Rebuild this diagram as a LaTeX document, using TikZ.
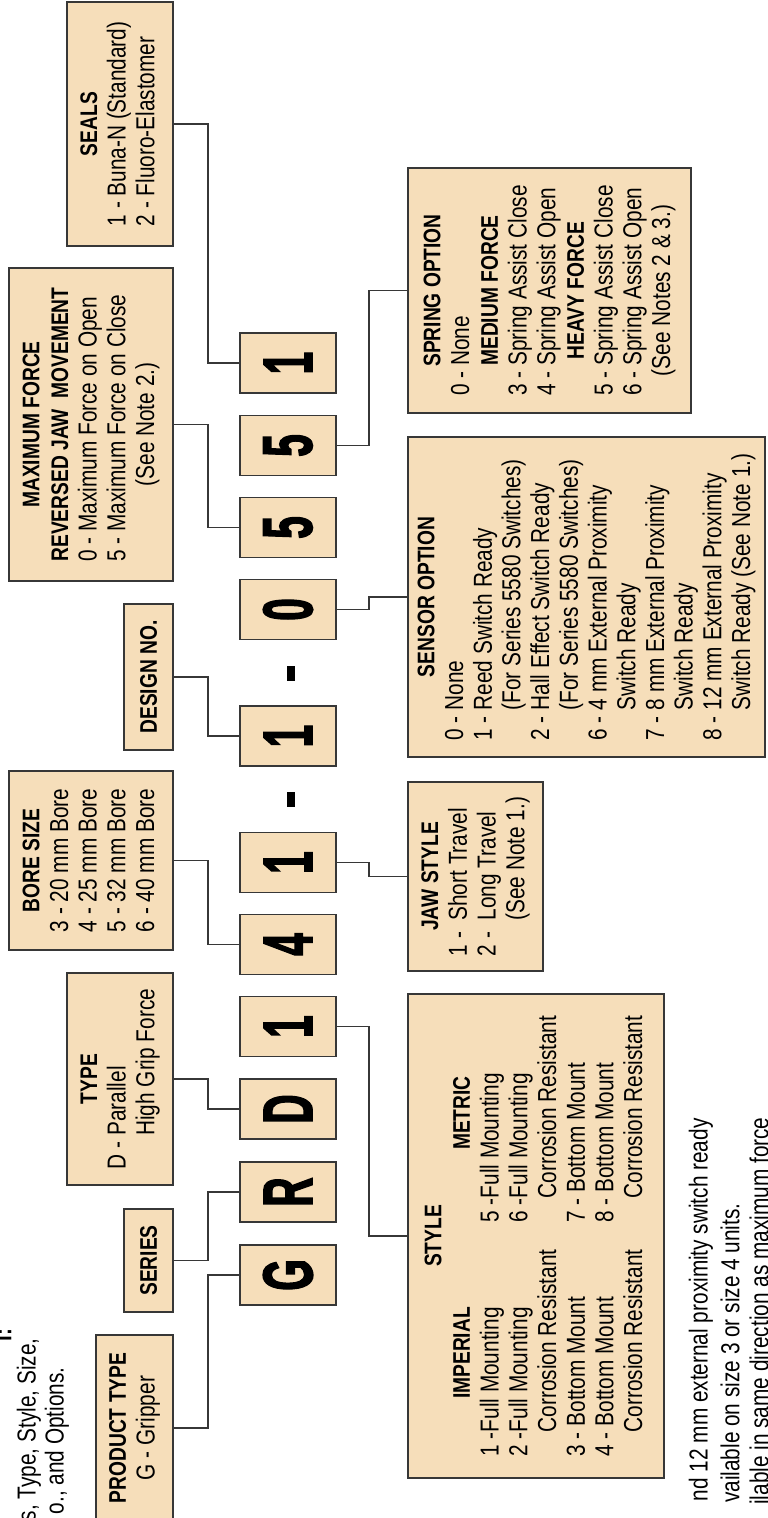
\documentclass[tikz,border=0pt]{standalone}
\usepackage{graphicx}
\usepackage{fontspec}
\setmainfont{Liberation Sans}[FakeStretch=0.8]
\newfontfamily\heavyfont{Liberation Sans Bold}[FakeStretch=0.8, FakeBold=2.5]
\usetikzlibrary{positioning, calc}

\definecolor{boxfill}{RGB}{246,222,186}
\definecolor{boxline}{RGB}{55,55,55}

\newcommand{\hd}[1]{{\fontsize{12}{14.35}\selectfont\bfseries #1}}
\newcommand{\hcell}[1]{\multicolumn{1}{@{}c@{}}{\hd{#1}}}
\newcommand{\ccell}[1]{\multicolumn{1}{@{}c@{}}{#1}}
\newcommand{\bigchar}[1]{\scalebox{0.72}[1]{#1}}

\begin{document}
\begin{tikzpicture}[
  x=0.5pt, y=-0.5pt,
  field/.style={draw=boxline, line width=0.75pt, fill=boxfill, rotate=90, inner sep=0pt, font=\fontsize{13}{14.35}\selectfont},
  digit/.style={field, minimum width=30pt, minimum height=48pt, font=\fontsize{35}{35}\selectfont\heavyfont},
  dashbar/.style={fill=black, rotate=90, inner sep=0pt, minimum width=7.5pt, minimum height=4pt},
  link/.style={draw=boxline, line width=0.6pt},
  note/.style={rotate=90, inner sep=0pt, anchor=east, font=\fontsize{13}{14.35}\selectfont}
]

\useasboundingbox (0,0) rectangle (767,1518);
\clip (0,0) rectangle (767,1518);

% bus lines either side of the code
\coordinate (topbus) at (208,0);
\coordinate (lowbus) at (369,0);

% code characters
\node[digit] (g) at (288,1275) {\bigchar{G}};
\node[digit] (r) at (288,1192) {\bigchar{R}};
\node[digit] (d) at (288,1109) {\bigchar{D}};
\node[digit] (styleno) at (288,1026.5) {\bigchar{1}};
\node[digit] (boreno) at (288,944.5) {\bigchar{4}};
\node[digit] (jawno) at (288,862.5) {\bigchar{1}};
\node[dashbar] (dashA) at (291,799) {};
\node[digit] (designno) at (288,736) {\bigchar{1}};
\node[dashbar] (dashB) at (291,673) {};
\node[digit] (sensorno) at (288,609.5) {\bigchar{0}};
\node[digit] (forceno) at (288,527.5) {\bigchar{5}};
\node[digit] (springno) at (288,445.5) {\bigchar{5}};
\node[digit] (sealno) at (288,363) {\bigchar{1}};

% upper fields
\node[field, minimum width=93pt, minimum height=38.5pt] (ptype) at (134.5,1428) {\begin{tabular}{@{}c@{}}\hd{PRODUCT TYPE}\\ G - Gripper\end{tabular}};
\node[field, minimum width=51.5pt, minimum height=24.5pt] (series) at (148.5,1260.5) {\hd{SERIES}};
\node[field, minimum width=106pt, minimum height=53pt] (type) at (120,1079) {\begin{tabular}{@{}l@{}}\hcell{TYPE}\\ D - Parallel\\ \phantom{D - }High Grip Force\end{tabular}};
\node[field, minimum width=89.5pt, minimum height=82pt] (bore) at (91,860.5) {\begin{tabular}{@{}l@{}}\hcell{BORE SIZE}\\ 3 - 20 mm Bore\\ 4 - 25 mm Bore\\ 5 - 32 mm Bore\\ 6 - 40 mm Bore\end{tabular}};
\node[field, minimum width=73pt, minimum height=24.5pt] (design) at (148.5,677) {\hd{DESIGN NO.}};
\node[field, minimum width=156.5pt, minimum height=82pt] (maxforce) at (91,424.5) {\begin{tabular}{@{}l@{}}\hcell{MAXIMUM FORCE}\\ \hcell{REVERSED JAW\ \ MOVEMENT}\\ 0 - Maximum Force on Open\\ 5 - Maximum Force on Close\\ \ccell{(See Note 2.)}\end{tabular}};
\node[field, minimum width=122pt, minimum height=53pt] (seals) at (120,124) {\begin{tabular}{@{}l@{}}\hcell{SEALS}\\ 1 - Buna-N (Standard)\\ 2 - Fluoro-Elastomer\end{tabular}};

% lower fields
\node[field, minimum width=242pt, minimum height=128pt] (style) at (536,1236) {\begin{tabular}{@{}l@{\hspace{13.5pt}}l@{}}
  \multicolumn{2}{@{}c@{}}{\hd{STYLE}}\\
  \multicolumn{1}{@{}c@{\hspace{13.5pt}}}{\hd{IMPERIAL}} & \multicolumn{1}{c@{}}{\hd{METRIC}}\\
  1 -Full Mounting & 5 -Full Mounting\\
  2 -Full Mounting & 6 -Full Mounting\\
  \phantom{1 -}Corrosion Resistant & \phantom{5 -}Corrosion Resistant\\
  3 - Bottom Mount & 7 - Bottom Mount\\
  4 - Bottom Mount & 8 - Bottom Mount\\
  \phantom{1 -}Corrosion Resistant & \phantom{5 -}Corrosion Resistant
\end{tabular}};
\node[field, minimum width=94.5pt, minimum height=67.5pt] (jaw) at (475.5,876.5) {\begin{tabular}{@{}l@{}}\hcell{JAW STYLE}\\ 1 -\ \ Short Travel\\ 2 -\ \ Long Travel\\ \phantom{1 -\ \ }(See Note 1.)\end{tabular}};
\node[field, minimum width=160pt, minimum height=178.5pt] (sensor) at (586.5,597) {\begin{tabular}{@{}l@{}}
  \hcell{SENSOR OPTION}\\
  0 - None\\
  1 - Reed Switch Ready\\
  \phantom{1 - }(For Series 5580 Switches)\\
  2 - Hall Effect Switch Ready\\
  \phantom{2 - }(For Series 5580 Switches)\\
  6 - 4 mm External Proximity\\
  \phantom{6 - }Switch Ready\\
  7 - 8 mm External Proximity\\
  \phantom{7 - }Switch Ready\\
  8 - 12 mm External Proximity\\
  \phantom{8 - }Switch Ready (See Note 1.)
\end{tabular}};
\node[field, minimum width=122.5pt, minimum height=141.5pt] (spring) at (549.5,290.5) {\begin{tabular}{@{}l@{}}
  \hcell{SPRING OPTION}\\
  0 - None\\
  \hcell{MEDIUM FORCE}\\
  3 - Spring Assist Close\\
  4 - Spring Assist Open\\
  \hcell{HEAVY FORCE}\\
  5 - Spring Assist Close\\
  6 - Spring Assist Open\\
  \ccell{(See Notes 2 \& 3.)}
\end{tabular}};

% upper fields to code characters
\draw[link] (ptype.south) -- (ptype.south -| topbus) |- (g.north);
\draw[link] (series.south) -- (series.south -| topbus) |- (r.north);
\draw[link] (type.south) -- (type.south -| topbus) |- (d.north);
\draw[link] (bore.south) -- (bore.south -| topbus) |- (boreno.north);
\draw[link] (design.south) -- (design.south -| topbus) |- (designno.north);
\draw[link] (maxforce.south) -- (maxforce.south -| topbus) |- (forceno.north);
\draw[link] (seals.south) -- (seals.south -| topbus) |- (sealno.north);

% code characters to lower fields
\draw[link] (styleno.south) -- (styleno.south -| lowbus) |- (style.north);
\draw[link] (jawno.south) -- (jawno.south -| lowbus) |- (jaw.north);
\draw[link] (sensorno.south) -- (sensorno.south -| lowbus) |- (sensor.north);
\draw[link] (springno.south) -- (springno.south -| lowbus) |- (spring.north);

% text cut by the page edges
\node[note, font=\fontsize{13}{14.35}\selectfont\bfseries] (introhead) at (2,1328) {l:};
\node[note] (introA) at (29,1338) {s, Type, Style, Size,};
\node[note] (introB) at (57,1367) {o., and Options.};
\node[note] (noteA) at (701,1118) {nd 12 mm external proximity switch ready};
\node[note] (noteB) at (730,1203) {vailable on size 3 or size 4 units.};
\node[note] (noteC) at (759,1117) {ilable in same direction as maximum force};

\end{tikzpicture}
\end{document}
